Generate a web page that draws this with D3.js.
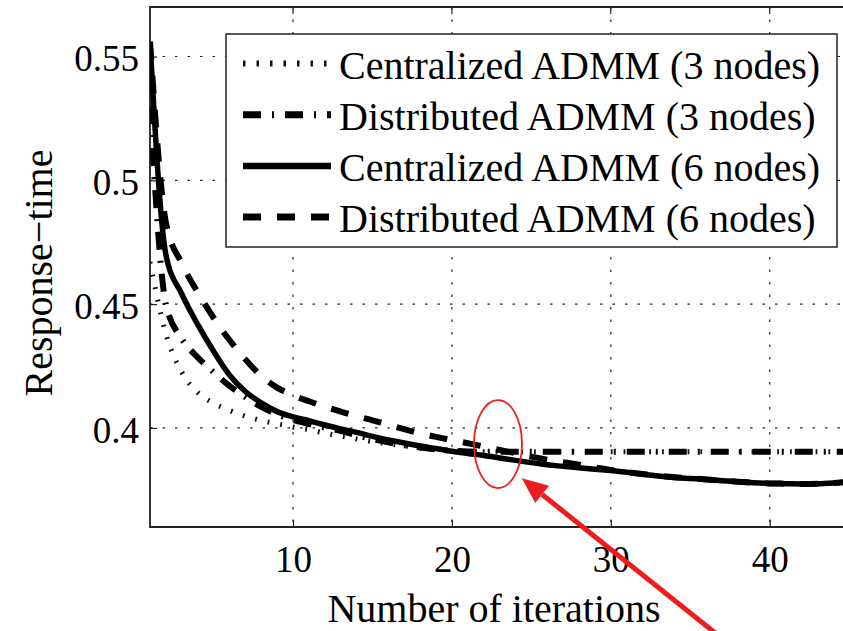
<!DOCTYPE html>
<html>
<head>
<meta charset="utf-8">
<script src="https://cdn.jsdelivr.net/npm/d3@7/dist/d3.min.js"></script>
<style>
	body { margin: 0; background: #fff; }
	svg text { font-family: "Liberation Serif", "Times New Roman", serif; fill: #000; }
</style>
</head>
<body>
<svg id="chart" width="843" height="631"></svg>
<script>
/* Data (one value per iteration) */

var iterations = [1, 2, 3, 4, 5, 6, 7, 8, 9, 10, 11, 12, 13, 14, 15, 16, 17, 18, 19, 20,
	21, 22, 23, 24, 25, 26, 27, 28, 29, 30, 31, 32, 33, 34, 35, 36, 37, 38, 39, 40,
	41, 42, 43, 44, 45, 46];

var centralized3 = [0.467, 0.438, 0.4225, 0.4143, 0.41, 0.4071, 0.4048, 0.403, 0.4017, 0.4004,
	0.3993, 0.3979, 0.3967, 0.3956, 0.3945, 0.3936, 0.3928, 0.392, 0.3914, 0.3909,
	0.3906, 0.3904, 0.3904, 0.3904, 0.3904, 0.3904, 0.3904, 0.3904, 0.3904, 0.3904,
	0.3904, 0.3904, 0.3904, 0.3904, 0.3904, 0.3904, 0.3904, 0.3904, 0.3904, 0.3904,
	0.3904, 0.3904, 0.3904, 0.3904, 0.3904, 0.3904];

var distributed3 = [0.53, 0.45, 0.436, 0.4285, 0.4225, 0.417, 0.4125, 0.4085, 0.4055, 0.4033,
	0.4016, 0.4002, 0.3988, 0.3971, 0.3955, 0.3942, 0.393, 0.3921, 0.3913, 0.3908,
	0.3905, 0.3904, 0.3904, 0.3904, 0.3904, 0.3904, 0.3904, 0.3904, 0.3904, 0.3904,
	0.3904, 0.3904, 0.3904, 0.3904, 0.3904, 0.3904, 0.3904, 0.3904, 0.3904, 0.3904,
	0.3904, 0.3904, 0.3904, 0.3904, 0.3904, 0.3904];

var centralized6 = [0.556, 0.470, 0.4541, 0.4418, 0.431, 0.4214, 0.4147, 0.4101, 0.4066, 0.4045,
	0.4029, 0.4012, 0.3996, 0.3982, 0.3966, 0.3952, 0.3939, 0.3927, 0.3917, 0.3906,
	0.3897, 0.3889, 0.3879, 0.3869, 0.386, 0.3851, 0.3845, 0.3839, 0.3833, 0.3828,
	0.3821, 0.3813, 0.3806, 0.38, 0.3796, 0.3792, 0.3787, 0.3783, 0.3779, 0.3776,
	0.3775, 0.3774, 0.3775, 0.3778, 0.3782, 0.3785];

var distributed6 = [0.556, 0.483, 0.4665, 0.4548, 0.4445, 0.4355, 0.4277, 0.421, 0.4163, 0.4132,
	0.4108, 0.4086, 0.4066, 0.4047, 0.4031, 0.4013, 0.3995, 0.3978, 0.3964, 0.3951,
	0.3938, 0.3925, 0.3911, 0.3898, 0.3884, 0.3872, 0.3862, 0.3852, 0.3841, 0.383,
	0.3822, 0.3814, 0.3807, 0.3801, 0.3797, 0.3792, 0.3787, 0.3783, 0.3779, 0.3776,
	0.3775, 0.3774, 0.3775, 0.3778, 0.3782, 0.3785];

var seriesNames = ["Centralized ADMM (3 nodes)", "Distributed ADMM (3 nodes)",
	"Centralized ADMM (6 nodes)", "Distributed ADMM (6 nodes)"];

var xTickValues = [10, 20, 30, 40];
var yTickValues = [0.4, 0.45, 0.5, 0.55];
var yTickLabels = ["0.4", "0.45", "0.5", "0.55"];

// Where the red mark-up sits, in data units.
var highlightCenter = [22.9, 0.3935];
var arrowTip = [24.4, 0.3797];

/* Line styles, in the same order as the series */

var seriesStyles = [
	{ width: 5, dash: "1.8,11", color: "#111" },
	{ width: 6, dash: "18,11,2,11", color: "#000" },
	{ width: 5.5, dash: null, color: "#000" },
	{ width: 6, dash: "18,16", color: "#000" }
];

/* Scales */

var plotLeft = 150, plotTop = 7, plotBottom = 527;
var unitWidth = 15.89;

var x = d3.scaleLinear().domain([1, 50]).range([plotLeft, plotLeft + 49 * unitWidth]);
var y = d3.scaleLinear().domain([0.36, 0.57]).range([plotBottom, plotTop]);

var svg = d3.select("#chart");
svg.append("rect").attr("width", 843).attr("height", 631).attr("fill", "#fff");

svg.append("defs").append("clipPath").attr("id", "plotClip")
	.append("rect")
	.attr("x", plotLeft).attr("y", plotTop)
	.attr("width", 843 - plotLeft).attr("height", plotBottom - plotTop);

/* Grid */

var grid = svg.append("g").attr("class", "grid");

grid.selectAll("line.hgrid").data(yTickValues).enter().append("line")
	.attr("class", "hgrid")
	.attr("x1", plotLeft).attr("x2", 843)
	.attr("y1", function (d) { return y(d); })
	.attr("y2", function (d) { return y(d); });

grid.selectAll("line.vgrid").data(xTickValues).enter().append("line")
	.attr("class", "vgrid")
	.attr("x1", function (d) { return x(d); })
	.attr("x2", function (d) { return x(d); })
	.attr("y1", plotTop).attr("y2", plotBottom);

grid.selectAll("line")
	.attr("stroke", "#222").attr("stroke-width", 1.2)
	.attr("stroke-dasharray", "2.5,10");

/* Axes: MATLAB style, ticks pointing in */

var yAxis = d3.axisLeft(y).tickValues(yTickValues)
	.tickFormat(function (d, i) { return yTickLabels[i]; })
	.tickSizeInner(-7).tickSizeOuter(0).tickPadding(11);

var yAxisGroup = svg.append("g").attr("transform", "translate(" + plotLeft + ",0)").call(yAxis);
yAxisGroup.select(".domain").remove();
yAxisGroup.selectAll("text").attr("font-size", 37).attr("dy", "0.38em");

var xAxis = d3.axisBottom(x).tickValues(xTickValues)
	.tickSizeInner(-7).tickSizeOuter(0);

var xAxisGroup = svg.append("g").attr("transform", "translate(0," + plotBottom + ")").call(xAxis);
xAxisGroup.select(".domain").remove();
xAxisGroup.selectAll("text").attr("font-size", 37).attr("y", 45).attr("dy", 0);

// Small ticks on the top edge too.
svg.append("g").selectAll("line").data(xTickValues).enter().append("line")
	.attr("x1", function (d) { return x(d); })
	.attr("x2", function (d) { return x(d); })
	.attr("y1", plotTop).attr("y2", plotTop + 7);

svg.selectAll(".tick line").attr("stroke", "#222").attr("stroke-width", 1.2);
svg.selectAll("g line:not([class])").attr("stroke", "#222").attr("stroke-width", 1.2);

// The frame. The right side falls outside the picture.
svg.append("path")
	.attr("d", "M843," + plotTop + "H" + plotLeft + "V" + plotBottom + "H843")
	.attr("fill", "none").attr("stroke", "#222").attr("stroke-width", 1.8);

/* Curves */

var allSeries = [centralized3, distributed3, centralized6, distributed6];

// Monotone smoothing keeps the early drop from showing hard corners.
var lineMaker = d3.line()
	.x(function (d, i) { return x(iterations[i]); })
	.y(function (d) { return y(d); })
	.curve(d3.curveMonotoneX);

svg.append("g").attr("clip-path", "url(#plotClip)")
	.selectAll("path").data(allSeries).enter().append("path")
	.attr("d", lineMaker)
	.attr("fill", "none")
	.attr("stroke", function (d, i) { return seriesStyles[i].color; })
	.attr("stroke-width", function (d, i) { return seriesStyles[i].width; })
	.attr("stroke-dasharray", function (d, i) { return seriesStyles[i].dash; })
	.attr("stroke-linejoin", "round");

/* Legend */

var legendBox = { left: 226, top: 34, right: 837, bottom: 247 };
var legendRowY = [63.5, 114.7, 165.9, 217.1];

var legend = svg.append("g").attr("class", "legend");
legend.append("rect")
	.attr("x", legendBox.left).attr("y", legendBox.top)
	.attr("width", legendBox.right - legendBox.left)
	.attr("height", legendBox.bottom - legendBox.top)
	.attr("fill", "#fff").attr("stroke", "#222").attr("stroke-width", 1.5);

var legendRows = legend.selectAll("g.row").data(seriesNames).enter().append("g")
	.attr("class", "row")
	.attr("transform", function (d, i) { return "translate(0," + legendRowY[i] + ")"; });

legendRows.append("line")
	.attr("x1", 243).attr("x2", 331).attr("y1", 0).attr("y2", 0)
	.attr("stroke", function (d, i) { return seriesStyles[i].color; })
	.attr("stroke-width", function (d, i) { return seriesStyles[i].width + 1; })
	.attr("stroke-dasharray", function (d, i) {
		// Legend samples start on a mark, as MATLAB draws them.
		return i === 0 ? "2.5,11" : seriesStyles[i].dash;
	});

legendRows.append("text")
	.attr("x", 339).attr("y", 15)
	.attr("font-size", 40)
	.text(function (d) { return d; });

/* Axis titles */

svg.append("text")
	.attr("x", 494).attr("y", 622)
	.attr("text-anchor", "middle").attr("font-size", 40)
	.text("Number of iterations");

svg.append("text")
	.attr("transform", "translate(52,273) rotate(-90)")
	.attr("text-anchor", "middle").attr("font-size", 40)
	.text("Response\u2212time");

/* Red mark-up: ellipse round the crossing and an arrow pointing at it */

var markRed = "#ee1c1c";

svg.append("ellipse")
	.attr("cx", x(highlightCenter[0])).attr("cy", y(highlightCenter[1]))
	.attr("rx", 24).attr("ry", 44)
	.attr("fill", "none").attr("stroke", markRed).attr("stroke-width", 1.8);

var tipX = x(arrowTip[0]), tipY = y(arrowTip[1]);
var tailX = 724, tailY = 640;
var ang = Math.atan2(tailY - tipY, tailX - tipX);
var headLen = 26, headHalf = 11;
var baseX = tipX + headLen * Math.cos(ang), baseY = tipY + headLen * Math.sin(ang);

svg.append("line")
	.attr("x1", baseX).attr("y1", baseY).attr("x2", tailX).attr("y2", tailY)
	.attr("stroke", markRed).attr("stroke-width", 5);

svg.append("polygon")
	.attr("points", [
		[tipX, tipY],
		[baseX + headHalf * Math.sin(ang), baseY - headHalf * Math.cos(ang)],
		[baseX - headHalf * Math.sin(ang), baseY + headHalf * Math.cos(ang)]
	].map(function (p) { return p.join(","); }).join(" "))
	.attr("fill", markRed);
</script>
</body>
</html>
